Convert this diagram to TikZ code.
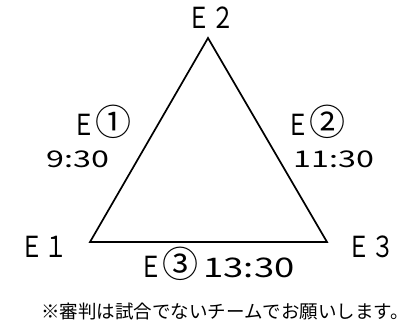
\documentclass[tikz,border=0pt]{standalone}
\usepackage{fontspec}
\usepackage{graphicx}
\setmainfont{Noto Sans CJK JP}
\newcommand{\ring}[1]{{\fontsize{36}{36}\selectfont\raisebox{-0.3pt}{#1}}}

\begin{document}
\begin{tikzpicture}[x=1pt, y=-1pt,
    team/.style={font=\fontsize{29}{29}\selectfont, inner sep=0pt, anchor=base},
    slot/.style={font=\fontsize{23}{23}\selectfont, inner sep=0pt, anchor=base}]
        \useasboundingbox (0,0) rectangle (411,327);

        % The Triangle (Teams at the corners)
        \coordinate (top) at (208,38);
        \coordinate (left) at (90,242);
        \coordinate (right) at (327,242);
        \draw[line width=1.7pt] (left) -- (top) -- (right) -- cycle;

        % Team names
        \node[team] (e2) at (211,28) {\scalebox{0.8}[1]{Ｅ２}};
        \node[team] (e1) at (44,257) {\scalebox{0.8}[1]{Ｅ１}};
        \node[team] (e3) at (371,257) {\scalebox{0.8}[1]{Ｅ３}};

        % The Games (one per side)
        \node[team] (g1) at (102,135) {\scalebox{0.8}[1]{Ｅ}\ring{①}};
        \node[slot] (t1) at (78,167) {\scalebox{1.4}[1]{9:30}};
        \node[team] (g2) at (316,135) {\scalebox{0.8}[1]{Ｅ}\ring{②}};
        \node[slot] (t2) at (334,167) {\scalebox{1.4}[1]{11:30}};
        \node[team] (g3) at (217,277) {\scalebox{0.8}[1]{Ｅ}\ring{③}\,\fontsize{27}{27}\selectfont\scalebox{1.35}[1]{13:30}};

        % Note
        \node[inner sep=0pt, anchor=base, font=\fontsize{18.5}{18.5}\selectfont] (note) at (225,318) {※審判は試合でないチームでお願いします。};
    \end{tikzpicture}
\end{document}
